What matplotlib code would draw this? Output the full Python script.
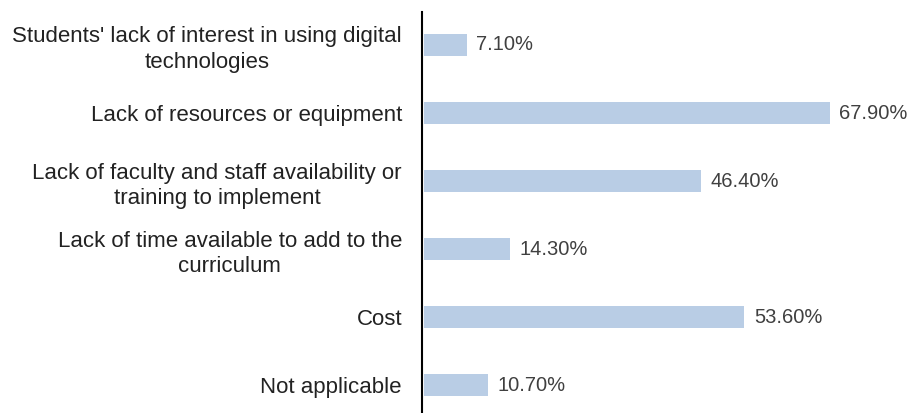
import matplotlib.pyplot as plt

# categories, top to bottom as in the picture
categories = ["Students' lack of interest in using digital\ntechnologies",
              "Lack of resources or equipment",
              "Lack of faculty and staff availability or\ntraining to implement",
              "Lack of time available to add to the\ncurriculum",
              "Cost",
              "Not applicable"]
values = [7.1, 67.9, 46.4, 14.3, 53.6, 10.7]
value_labels = ["7.10%", "67.90%", "46.40%", "14.30%", "53.60%", "10.70%"]

plt.rcParams['font.family'] = ['Liberation Sans', 'DejaVu Sans']

fig = plt.figure(figsize=(9.15, 4.13), dpi=100)
ax = fig.add_axes([422/915, 0, 1 - 422/915, (413 - 12)/413])

# bottom category first on the y axis
cats = categories[::-1]
vals = values[::-1]
labs = value_labels[::-1]
ypos = list(range(len(cats)))

ax.barh(ypos, vals, height=0.33, color='#B9CDE5', left=0.4)
for y, v, t in zip(ypos, vals, labs):
    ax.text(v + 0.4 + 1.6, y, t, va='center', ha='left', fontsize=14.5, color='#404040')

ax.set_yticks(ypos)
ax.set_yticklabels(cats, fontsize=16, color='#222222', ha='right',
                   multialignment='center', linespacing=1.3)
ax.tick_params(axis='y', length=0, pad=14.4)
ax.set_xticks([])
ax.set_xlim(0, 82.6)
ax.set_ylim(-0.41, 5.485)

for s in ['top', 'right', 'bottom']:
    ax.spines[s].set_visible(False)
ax.spines['left'].set_color('black')
ax.spines['left'].set_linewidth(1.5)

fig.savefig('out.png', dpi=100)
